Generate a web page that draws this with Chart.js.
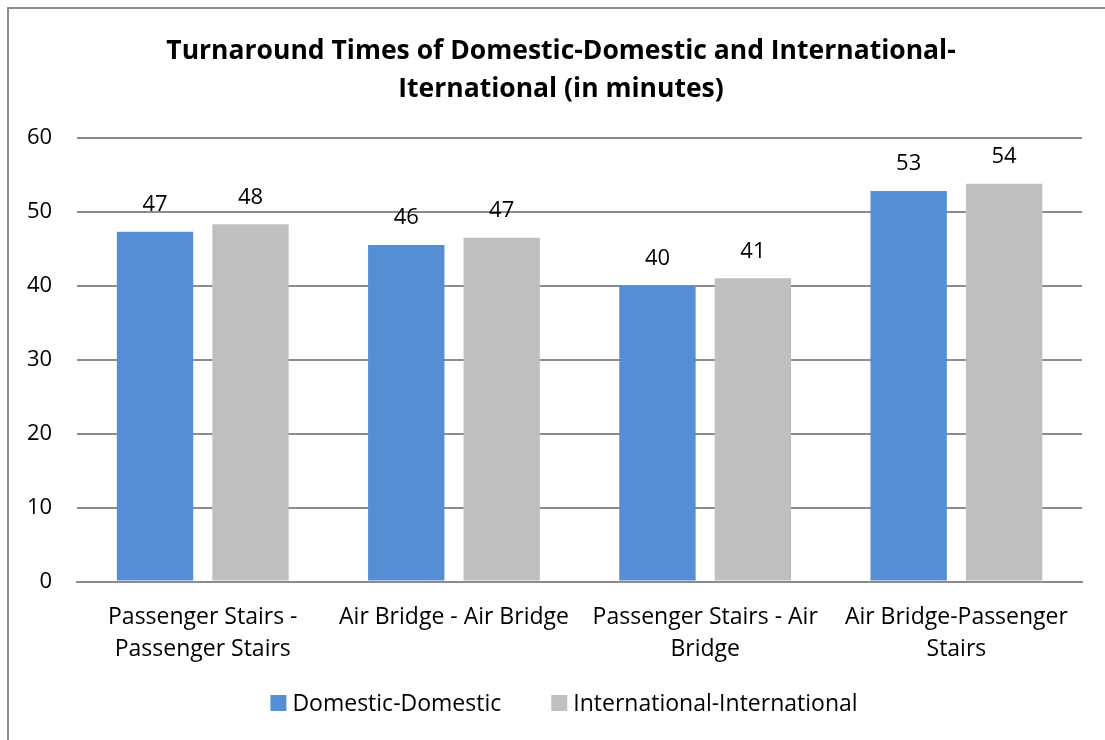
<!DOCTYPE html>
<html>
<head>
<meta charset="utf-8">
<script src="https://cdn.jsdelivr.net/npm/chart.js@4.4.1/dist/chart.umd.min.js"></script>
<style>
  html, body { margin: 0; padding: 0; background: #fff; overflow: hidden; }
  #frame {
    position: absolute; left: 7px; top: 7px;
    width: 1098px; height: 733px;
    border-left: 2px solid #8c8c8c; border-top: 2px solid #8c8c8c;
  }
  #chartBox { position: absolute; left: 2px; top: 9px; width: 1118px; height: 731px; }
</style>
</head>
<body>
<div id="frame"></div>
<div id="chartBox"><canvas id="turnaround"></canvas></div>
<script>
// turnaround categories (split into label lines)
const categories = [
    ['Passenger Stairs -', 'Passenger Stairs'],
    ['Air Bridge - Air Bridge'],
    ['Passenger Stairs - Air', 'Bridge'],
    ['Air Bridge-Passenger', 'Stairs']
];
const domesticTimes = [47.3, 45.5, 40.0, 52.8];
const internationalTimes = [48.3, 46.5, 41.0, 53.8];
const yTicks = [0, 10, 20, 30, 40, 50, 60];

const FONT = '"Open Sans", sans-serif';

// writes the rounded value above each bar
const barValues = {
    id: 'barValues',
    afterDatasetsDraw(chart) {
        const ctx = chart.ctx;
        ctx.save();
        ctx.font = '22px ' + FONT;
        ctx.fillStyle = '#000';
        ctx.textAlign = 'center';
        ctx.textBaseline = 'middle';
        chart.data.datasets.forEach((ds, i) => {
            chart.getDatasetMeta(i).data.forEach((bar, j) => {
                ctx.fillText(Math.round(ds.data[j]), bar.x, bar.y - 27);
            });
        });
        ctx.restore();
    }
};

// legend row along the bottom, wider spacing than the built-in one
const legendRow = {
    id: 'legendRow',
    afterDraw(chart) {
        const ctx = chart.ctx;
        const box = 16, gapText = 6, gapItem = 50;
        const y = chart.height - 37;
        ctx.save();
        ctx.font = '23px ' + FONT;
        ctx.textBaseline = 'middle';
        const items = chart.data.datasets.map(ds => ({
            text: ds.label, color: ds.backgroundColor, w: ctx.measureText(ds.label).width
        }));
        const total = items.reduce((s, it) => s + box + gapText + it.w, 0) + gapItem * (items.length - 1);
        let x = chart.width / 2 + 3 - total / 2;
        items.forEach(it => {
            ctx.fillStyle = it.color;
            ctx.fillRect(x, y - box / 2, box, box);
            x += box + gapText;
            ctx.fillStyle = '#000';
            ctx.fillText(it.text, x, y + 1);
            x += it.w + gapItem;
        });
        ctx.restore();
    }
};

document.addEventListener('DOMContentLoaded', () => {
    const ctx = document.getElementById('turnaround').getContext('2d');
    new Chart(ctx, {
        type: 'bar',
        data: {
            labels: categories,
            datasets: [{
                label: 'Domestic-Domestic',
                data: domesticTimes,
                backgroundColor: '#558ed5',
                categoryPercentage: 0.76,
                barPercentage: 0.8
            }, {
                label: 'International-International',
                data: internationalTimes,
                backgroundColor: '#bfbfbf',
                categoryPercentage: 0.76,
                barPercentage: 0.8
            }]
        },
        options: {
            responsive: true,
            maintainAspectRatio: false,
            animation: false,
            layout: { padding: { left: 0, right: 0, top: 0, bottom: 54 } },
            scales: {
                x: {
                    grid: { display: false, drawTicks: false },
                    border: { display: true, color: '#8c8c8c', width: 2 },
                    ticks: {
                        color: '#000',
                        font: { family: FONT, size: 23, lineHeight: 1.4 },
                        maxRotation: 0,
                        autoSkip: false,
                        padding: 20
                    }
                },
                y: {
                    min: 0,
                    max: 60,
                    afterBuildTicks: axis => { axis.ticks = yTicks.map(v => ({ value: v })); },
                    grid: { color: '#8c8c8c', lineWidth: 2, drawTicks: false },
                    border: { display: false },
                    ticks: {
                        color: '#000',
                        font: { family: FONT, size: 22 },
                        padding: 25
                    }
                },
                // empty right-hand margin so the title stays centred on the frame
                gutter: {
                    type: 'linear',
                    position: 'right',
                    grid: { display: false, drawTicks: false },
                    border: { display: false },
                    ticks: { display: false },
                    afterFit: axis => { axis.width = 38; }
                }
            },
            plugins: {
                title: {
                    display: true,
                    text: ['Turnaround Times of Domestic-Domestic and International-', 'Iternational (in minutes)'],
                    color: '#000',
                    font: { family: FONT, size: 26.5, weight: 'bold', lineHeight: 1.43 },
                    padding: { top: 24, bottom: 29 }
                },
                legend: { display: false },
                tooltip: { enabled: false }
            }
        },
        plugins: [barValues, legendRow]
    });
});
</script>
</body>
</html>
